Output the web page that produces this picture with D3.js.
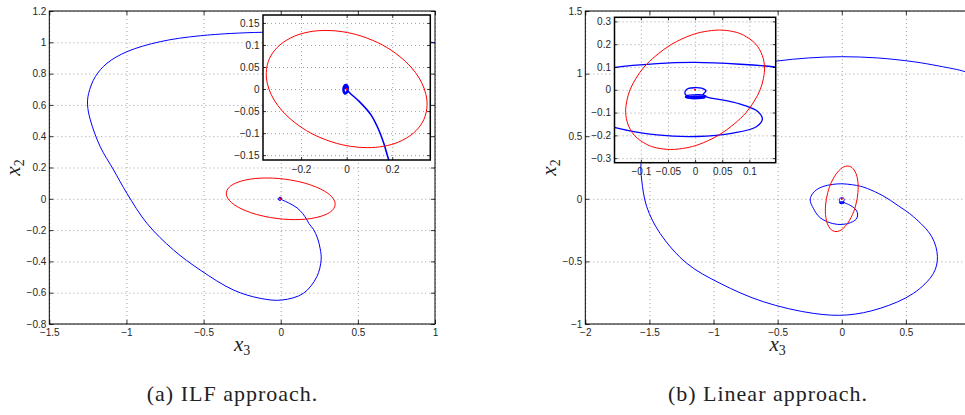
<!DOCTYPE html>
<meta charset="utf-8">
<head>
    <title>Phase plane x3-x2: ILF vs linear approach</title>
    <script src="https://d3js.org/d3.v7.min.js"></script>
    <style>
        body { margin: 0; background: #fff; }
        .grid line { stroke: #8a8a8a; stroke-width: 0.8; stroke-dasharray: 1,3; }
        .grid .domain { display: none; }
        .ticks .domain { display: none; }
        .ticks line { stroke: #000; stroke-width: 0.8; }
        .ticks text { font-family: "Liberation Sans", Arial, sans-serif; font-size: 10px; fill: #262626; }
        .math { font-family: "Liberation Serif", "Times New Roman", serif; fill: #222; }
        .caption { font-family: "Liberation Serif", "Times New Roman", serif; font-size: 22px; letter-spacing: 1px; fill: #222; }
    </style>
</head>

<body>
    <div id="svg-container"></div>
</body>

<script>

const width = 965;
const height = 415;

// (a) ILF approach: trajectory (x3, x2) and the red level set
const ilfTrajectory = [
    [1.02, 0.995], [0.75, 1.025], [0.45, 1.048], [0.15, 1.06], [-0.122, 1.064],
    [-0.52, 1.042], [-0.781, 1.004], [-0.997, 0.94], [-1.126, 0.866], [-1.202, 0.78],
    [-1.245, 0.674], [-1.252, 0.6], [-1.234, 0.504], [-1.17, 0.333], [-1.083, 0.184],
    [-0.997, 0.035], [-0.867, -0.157], [-0.695, -0.327], [-0.522, -0.455], [-0.306, -0.583],
    [-0.133, -0.636], [0.007, -0.647], [0.147, -0.604], [0.234, -0.498], [0.262, -0.39],
    [0.256, -0.32], [0.238, -0.25], [0.212, -0.195], [0.183, -0.158], [0.166, -0.128],
    [0.142, -0.094], [0.106, -0.058], [0.051, -0.026], [0.014, -0.009], [0.006, -0.004],
    [0.007, 0.004], [0.002, 0.009], [-0.005, 0.01], [-0.012, 0.007], [-0.016, 0],
    [-0.014, -0.007], [-0.008, -0.011], [-0.001, -0.01], [0.005, -0.005], [0.005, 0.003],
    [0, 0.007], [-0.006, 0.007], [-0.011, 0.003], [-0.011, -0.004], [-0.006, -0.008],
    [0, -0.006], [0.002, 0], [-0.003, 0.004], [-0.006, 0]
];
const ilfEllipse = [
    [0.352, -0.025], [0.341, 0], [0.318, 0.025], [0.282, 0.05], [0.230, 0.075],
    [0.157, 0.1], [0.065, 0.12], [-0.017, 0.13], [-0.091, 0.133], [-0.161, 0.13],
    [-0.229, 0.12], [-0.293, 0.1], [-0.333, 0.075], [-0.350, 0.05], [-0.352, 0.025],
    [-0.341, 0], [-0.318, -0.025], [-0.282, -0.05], [-0.230, -0.075], [-0.157, -0.1],
    [-0.065, -0.12], [0.017, -0.13], [0.091, -0.133], [0.161, -0.13], [0.229, -0.12],
    [0.293, -0.1], [0.333, -0.075], [0.350, -0.05]
];
const ilfXTicks = [-1.5, -1, -0.5, 0, 0.5, 1];
const ilfYTicks = [-0.8, -0.6, -0.4, -0.2, 0, 0.2, 0.4, 0.6, 0.8, 1, 1.2];
const ilfInsetXTicks = [-0.2, 0, 0.2];
const ilfInsetYTicks = [-0.15, -0.1, -0.05, 0, 0.05, 0.1, 0.15];

// (b) Linear approach
const linTrajectory = [
    [1.02, 0.985], [0.962, 1.015], [0.76, 1.06], [0.559, 1.095], [0.28, 1.125],
    [0, 1.135], [-0.26, 1.125], [-0.507, 1.10], [-0.8, 1.05], [-1.1, 0.95],
    [-1.35, 0.76], [-1.5, 0.53], [-1.565, 0.283], [-1.56, 0.15], [-1.521, -0.063],
    [-1.417, -0.276], [-1.209, -0.515], [-0.949, -0.675], [-0.612, -0.822], [-0.222, -0.915],
    [0.039, -0.928], [0.299, -0.875], [0.559, -0.755], [0.715, -0.595], [0.746, -0.462],
    [0.702, -0.303], [0.559, -0.143], [0.44, -0.055], [0.32, 0.025], [0.2, 0.082],
    [0.147, 0.1], [0.083, 0.112], [0, 0.12], [-0.07, 0.115], [-0.147, 0.098],
    [-0.2, 0.07], [-0.24, 0.02], [-0.245, -0.02], [-0.222, -0.075], [-0.185, -0.135],
    [-0.147, -0.166], [-0.07, -0.198], [0.003, -0.205], [0.07, -0.19], [0.113, -0.162],
    [0.124, -0.129], [0.116, -0.096], [0.089, -0.067], [0.052, -0.045], [0.021, -0.031],
    [0.015, -0.02], [0.02, -0.005], [0.012, 0.007], [0, 0.009], [-0.012, 0.006],
    [-0.018, -0.005], [-0.018, -0.02], [-0.012, -0.03], [0, -0.034], [0.015, -0.032],
    [0.02, -0.027], [0.012, -0.022], [0, -0.022], [-0.014, -0.025], [-0.018, -0.032],
    [-0.01, -0.038], [0.005, -0.039], [0.018, -0.035], [0.016, -0.03], [0, -0.029],
    [-0.016, -0.032], [-0.012, -0.037], [0.004, -0.037], [0.012, -0.034]
];
const linEllipse = [
    [0.045, 0.262], [0.0165, 0.255], [-0.007, 0.24], [-0.043, 0.2], [-0.072, 0.15],
    [-0.094, 0.1], [-0.109, 0.05], [-0.12, 0], [-0.126, -0.05], [-0.128, -0.1],
    [-0.124, -0.15], [-0.112, -0.2], [-0.089, -0.24], [-0.071, -0.255], [-0.045, -0.262],
    [-0.0165, -0.255], [0.007, -0.24], [0.043, -0.2], [0.072, -0.15], [0.094, -0.1],
    [0.109, -0.05], [0.12, 0], [0.126, 0.05], [0.128, 0.1], [0.124, 0.15],
    [0.112, 0.2], [0.089, 0.24], [0.071, 0.255]
];
// the tick at x3 = 1 falls just past the right edge of the page
const linXTicks = [-2, -1.5, -1, -0.5, 0, 0.5];
const linYTicks = [-1, -0.5, 0, 0.5, 1, 1.5];
const linInsetXTicks = [-0.1, -0.05, 0, 0.05, 0.1];
const linInsetYTicks = [-0.3, -0.2, -0.1, 0, 0.1, 0.2, 0.3];

const equilibrium = [[0, 0]];
const captions = ["(a) ILF approach.", "(b) Linear approach."];

const panels = [
    {
        id: "ilf",
        trajectory: ilfTrajectory,
        ellipse: ilfEllipse,
        caption: captions[0],
        main: { left: 49.3, right: 435, top: 11, bottom: 324, xDomain: [-1.5, 1], yDomain: [-0.8, 1.2],
                xTicks: ilfXTicks, yTicks: ilfYTicks, tick: 4, pad: 3, border: 1, lineWidth: 1 },
        inset: { left: 263, right: 430.3, top: 15, bottom: 160, xDomain: [-0.367, 0.367], yDomain: [-0.161, 0.168],
                 xTicks: ilfInsetXTicks, yTicks: ilfInsetYTicks, tick: 3, pad: 3.5, border: 1.5, lineWidth: 1.6 }
    },
    {
        id: "lin",
        trajectory: linTrajectory,
        ellipse: linEllipse,
        caption: captions[1],
        main: { left: 585.3, right: 970, top: 11, bottom: 324, xDomain: [-2, 1], yDomain: [-1, 1.5],
                xTicks: linXTicks, yTicks: linYTicks, tick: 4, pad: 3, border: 1, lineWidth: 1 },
        inset: { left: 614.5, right: 775.7, top: 17.3, bottom: 162.7, xDomain: [-0.1486, 0.1486], yDomain: [-0.32, 0.318],
                 xTicks: linInsetXTicks, yTicks: linInsetYTicks, tick: 3, pad: 3.5, border: 1.5, lineWidth: 1.3 }
    }
];

function tickText(d) {
    return d < 0 ? "\u2212" + Math.abs(d) : String(d);
}

function prepareContainer() {
    const svg = d3.select("#svg-container")
                  .append("svg")
                    .attr("width", width)
                    .attr("height", height);
    svg.append("rect")
        .attr("width", width)
        .attr("height", height)
        .attr("fill", "#fff");
    return svg;
}

function addAxes(parent, cfg, id) {
    const x = d3.scaleLinear().domain(cfg.xDomain).range([cfg.left, cfg.right]);
    const y = d3.scaleLinear().domain(cfg.yDomain).range([cfg.bottom, cfg.top]);
    const w = cfg.right - cfg.left;
    const h = cfg.bottom - cfg.top;

    const g = parent.append("g").attr("class", "axes-" + id);

    g.append("rect")
        .attr("x", cfg.left).attr("y", cfg.top)
        .attr("width", w).attr("height", h)
        .attr("fill", "#fff");

    g.append("clipPath")
        .attr("id", "clip-" + id)
      .append("rect")
        .attr("x", cfg.left).attr("y", cfg.top)
        .attr("width", w).attr("height", h);

    g.append("g")
        .attr("class", "grid")
        .attr("transform", `translate(0,${cfg.bottom})`)
        .call(d3.axisBottom(x).tickValues(cfg.xTicks).tickSize(-h).tickSizeOuter(0).tickFormat(""));
    g.append("g")
        .attr("class", "grid")
        .attr("transform", `translate(${cfg.left},0)`)
        .call(d3.axisLeft(y).tickValues(cfg.yTicks).tickSize(-w).tickSizeOuter(0).tickFormat(""));

    const plot = g.append("g").attr("clip-path", `url(#clip-${id})`);

    return { x: x, y: y, g: g, cfg: cfg, plot: plot };
}

function finishAxes(axes) {
    const cfg = axes.cfg;
    const g = axes.g;

    g.append("g")
        .attr("class", "ticks")
        .attr("transform", `translate(0,${cfg.bottom})`)
        .call(d3.axisBottom(axes.x).tickValues(cfg.xTicks).tickSize(-cfg.tick).tickSizeOuter(0)
                .tickPadding(cfg.pad + 2).tickFormat(tickText))
        .attr("font-family", null).attr("font-size", null);
    g.append("g")
        .attr("class", "ticks")
        .attr("transform", `translate(${cfg.left},0)`)
        .call(d3.axisLeft(axes.y).tickValues(cfg.yTicks).tickSize(-cfg.tick).tickSizeOuter(0)
                .tickPadding(cfg.pad).tickFormat(tickText))
        .attr("font-family", null).attr("font-size", null);
    g.append("g")
        .attr("class", "ticks")
        .attr("transform", `translate(0,${cfg.top})`)
        .call(d3.axisTop(axes.x).tickValues(cfg.xTicks).tickSize(-cfg.tick).tickSizeOuter(0).tickFormat(""));
    g.append("g")
        .attr("class", "ticks")
        .attr("transform", `translate(${cfg.right},0)`)
        .call(d3.axisRight(axes.y).tickValues(cfg.yTicks).tickSize(-cfg.tick).tickSizeOuter(0).tickFormat(""));

    g.append("rect")
        .attr("x", cfg.left).attr("y", cfg.top)
        .attr("width", cfg.right - cfg.left)
        .attr("height", cfg.bottom - cfg.top)
        .attr("fill", "none")
        .attr("stroke", "#000")
        .attr("stroke-width", cfg.border);
}

function plotPhase(axes, trajectory, ellipse) {
    const line = d3.line()
                    .x(function(d) { return axes.x(d[0]); })
                    .y(function(d) { return axes.y(d[1]); })
                    .curve(d3.curveCatmullRom.alpha(0.5));
    const closed = d3.line()
                    .x(function(d) { return axes.x(d[0]); })
                    .y(function(d) { return axes.y(d[1]); })
                    .curve(d3.curveCatmullRomClosed.alpha(0.5));

    axes.plot.append("path")
        .attr("d", line(trajectory))
        .attr("fill", "none")
        .attr("stroke", "#0000ff")
        .attr("stroke-width", axes.cfg.lineWidth)
        .attr("stroke-linejoin", "round");

    axes.plot.append("path")
        .attr("d", closed(ellipse))
        .attr("fill", "none")
        .attr("stroke", "#ff0000")
        .attr("stroke-width", 1);

    axes.plot.selectAll(".eq")
        .data(equilibrium).enter()
        .append("circle")
            .attr("class", "eq")
            .attr("cx", function(d) { return axes.x(d[0]); })
            .attr("cy", function(d) { return axes.y(d[1]); })
            .attr("r", 1.1)
            .attr("fill", "#ff0000");
}

function addLabels(svg, cfg, yLabelX, caption) {
    const cx = (cfg.left + Math.min(cfg.right, 970)) / 2;
    const cy = (cfg.top + cfg.bottom) / 2;

    const xl = svg.append("text")
        .attr("class", "math")
        .attr("x", cx)
        .attr("y", 351)
        .attr("text-anchor", "middle")
        .attr("font-size", 21);
    xl.append("tspan").attr("font-style", "italic").text("x");
    xl.append("tspan").attr("font-size", 14).attr("dy", 4).text("3");

    const yl = svg.append("text")
        .attr("class", "math")
        .attr("transform", `translate(${yLabelX},${cy}) rotate(-90)`)
        .attr("text-anchor", "middle")
        .attr("font-size", 21);
    yl.append("tspan").attr("font-style", "italic").text("x");
    yl.append("tspan").attr("font-size", 14).attr("dy", 4).text("2");

    svg.append("text")
        .attr("class", "caption")
        .attr("x", caption.x)
        .attr("y", 401)
        .attr("text-anchor", "middle")
        .text(caption.text);
}

const svg = prepareContainer();

panels.forEach(function(p, i) {
    const main = addAxes(svg, p.main, p.id + "-main");
    plotPhase(main, p.trajectory, p.ellipse);
    finishAxes(main);

    const inset = addAxes(svg, p.inset, p.id + "-inset");
    plotPhase(inset, p.trajectory, p.ellipse);
    finishAxes(inset);

    addLabels(svg, p.main, i === 0 ? 20 : 556, { x: i === 0 ? 232.5 : 768, text: p.caption });
});

</script>
